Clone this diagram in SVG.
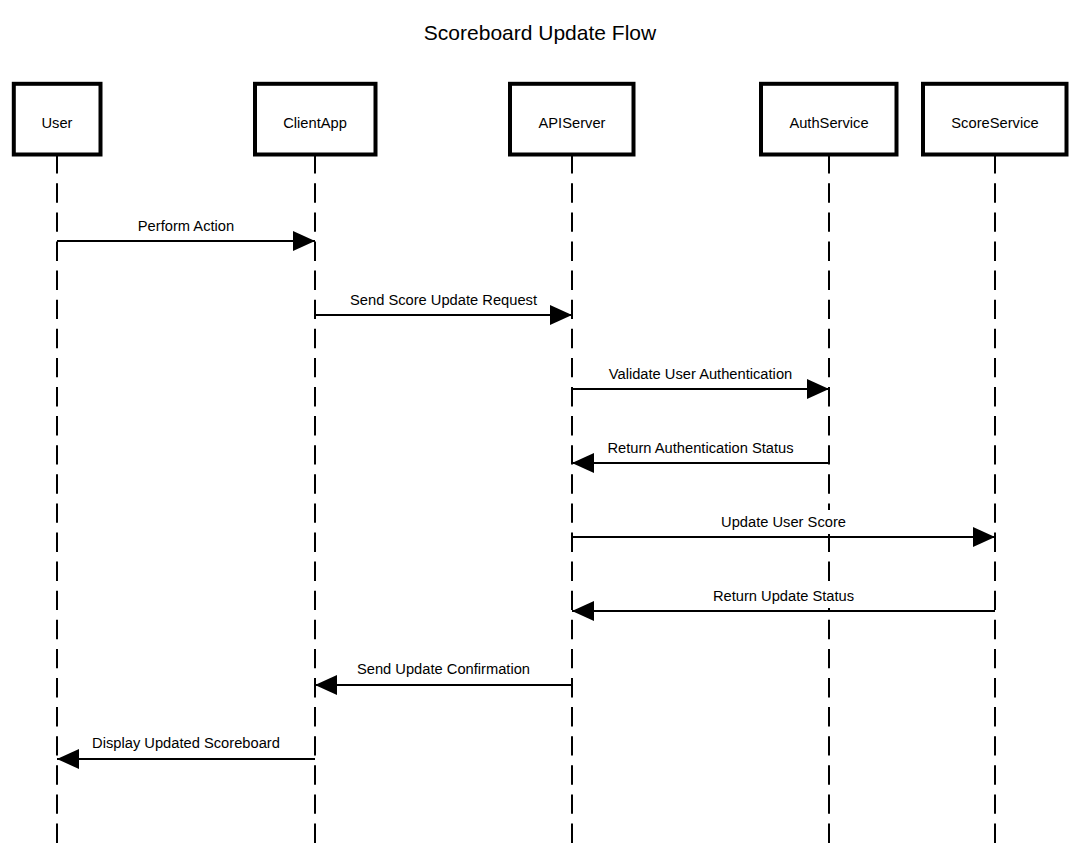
<svg xmlns="http://www.w3.org/2000/svg" width="1081" height="851" viewBox="0 0 1081 851">
<style>
.box{fill:#fff;stroke:#000;stroke-width:4}
.life{stroke:#000;stroke-width:2;stroke-dasharray:19.4 9.7;fill:none}
.msg{stroke:#000;stroke-width:2;fill:none;marker-end:url(#ah)}
.bg{fill:#fff;stroke:none}
text{font-family:"Liberation Sans",Arial,sans-serif;fill:#000}
.lbl{font-size:14.7px;text-anchor:middle}
.title{font-size:21px;text-anchor:middle}
</style>
<defs>
<marker id="ah" markerUnits="userSpaceOnUse" markerWidth="24" markerHeight="22" refX="22" refY="10" orient="auto">
<path d="M0,0 L22,10 L0,20 Z" fill="#000"/>
</marker>
</defs>
<rect width="1081" height="851" fill="#fff"/>
<text class="title" x="540" y="40">Scoreboard Update Flow</text>
<g id="lifelines">
<line class="life" x1="57" y1="154.2" x2="57" y2="845"/>
<line class="life" x1="315" y1="154.2" x2="315" y2="845"/>
<line class="life" x1="572" y1="154.2" x2="572" y2="845"/>
<line class="life" x1="829" y1="154.2" x2="829" y2="845"/>
<line class="life" x1="995" y1="154.2" x2="995" y2="845"/>
</g>
<g id="User"><rect class="box" x="13.8" y="83.8" width="86.7" height="70.7"/><text class="lbl" x="57" y="128">User</text></g>
<g id="ClientApp"><rect class="box" x="255" y="83.8" width="120.5" height="70.7"/><text class="lbl" x="315" y="128">ClientApp</text></g>
<g id="APIServer"><rect class="box" x="510" y="83.8" width="123.5" height="70.7"/><text class="lbl" x="572" y="128">APIServer</text></g>
<g id="AuthService"><rect class="box" x="761" y="83.8" width="135.5" height="70.7"/><text class="lbl" x="829" y="128">AuthService</text></g>
<g id="ScoreService"><rect class="box" x="923" y="83.8" width="143.5" height="70.7"/><text class="lbl" x="995" y="128">ScoreService</text></g>
<g id="connectors">
<line class="msg" x1="57" y1="241" x2="315" y2="241"/>
<rect class="bg" x="135" y="214" width="102" height="24"/>
<text class="lbl" x="186" y="231">Perform Action</text>
<line class="msg" x1="315" y1="315" x2="572" y2="315"/>
<rect class="bg" x="347" y="288" width="193" height="24"/>
<text class="lbl" x="443.5" y="305">Send Score Update Request</text>
<line class="msg" x1="572" y1="389" x2="829" y2="389"/>
<rect class="bg" x="606" y="362" width="189" height="24"/>
<text class="lbl" x="700.5" y="379">Validate User Authentication</text>
<line class="msg" x1="829" y1="463" x2="572" y2="463"/>
<rect class="bg" x="605" y="436" width="191" height="24"/>
<text class="lbl" x="700.5" y="453">Return Authentication Status</text>
<line class="msg" x1="572" y1="537" x2="995" y2="537"/>
<rect class="bg" x="719" y="510" width="129" height="24"/>
<text class="lbl" x="783.5" y="527">Update User Score</text>
<line class="msg" x1="995" y1="611" x2="572" y2="611"/>
<rect class="bg" x="711" y="584" width="145" height="24"/>
<text class="lbl" x="783.5" y="601">Return Update Status</text>
<line class="msg" x1="572" y1="685" x2="315" y2="685"/>
<rect class="bg" x="355" y="657" width="177" height="24"/>
<text class="lbl" x="443.5" y="674">Send Update Confirmation</text>
<line class="msg" x1="315" y1="759" x2="57" y2="759"/>
<rect class="bg" x="90" y="731" width="192" height="24"/>
<text class="lbl" x="186" y="748">Display Updated Scoreboard</text>
</g>
</svg>
